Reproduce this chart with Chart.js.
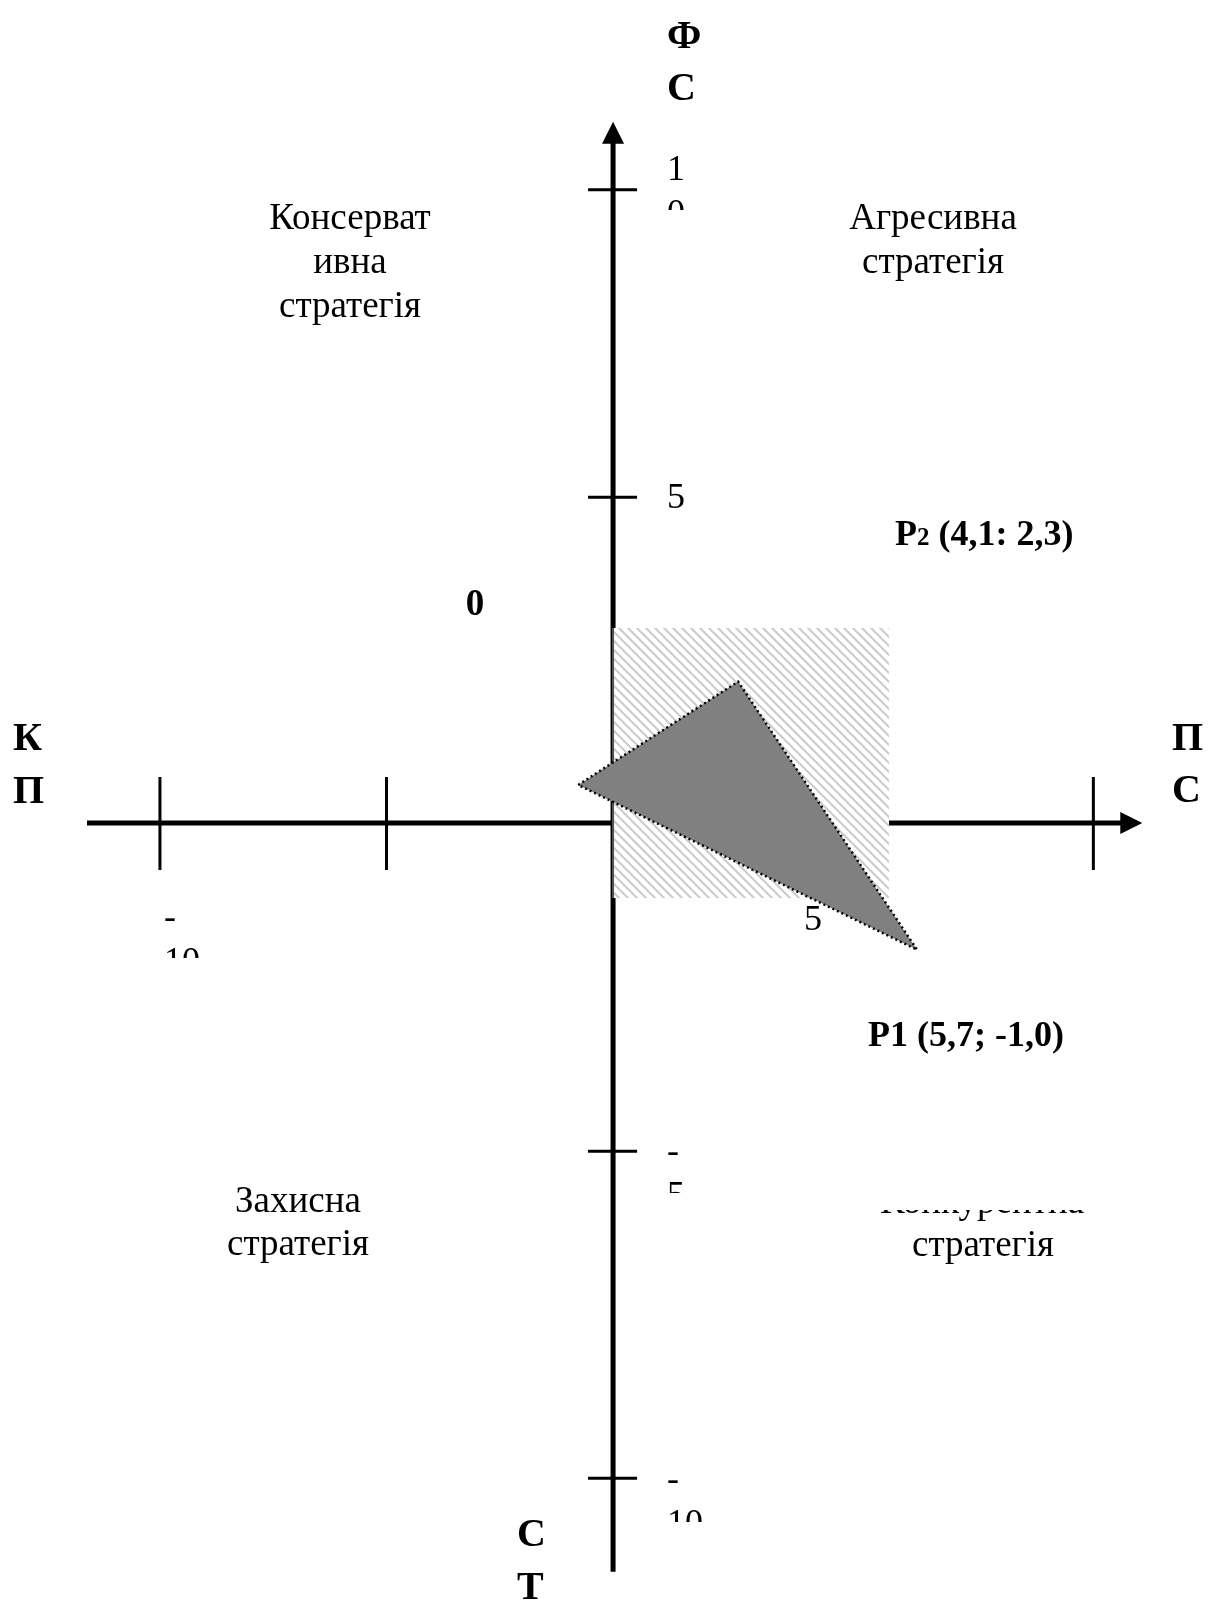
<!DOCTYPE html>
<html>
<head>
<meta charset="utf-8">
<script src="https://cdn.jsdelivr.net/npm/chart.js@4.4.1/dist/chart.umd.min.js"></script>
<style>
  html, body { margin: 0; padding: 0; background: #fff; }
  #wrap { width: 1208px; height: 1600px; }
</style>
</head>
<body>
<div id="wrap"><canvas id="space" width="1208" height="1600"></canvas></div>
<script>
// visible window of the plane (data units)
const xRange = [-13.53, 13.13];
const yRange = [-11.88, 12.58];

// how far the two axes run
const xAxisSpan = [-11.61, 11.68];
const yAxisSpan = [-11.45, 10.72];

// tick marks as they sit in the picture
const xTicks = [-10, -5, 10.6];
const yTicks = [9.68, 4.98, -5.02, -10.02];

// shaded zone
const zoneX = [0, 6.09];
const zoneY = [-1.15, 2.98];

// triangle vertices
const triX = [-0.77, 2.76, 6.71];
const triY = [0.58, 2.16, -1.94];

const serif = '"Liberation Serif", "Times New Roman", serif';
const tickFont = '36px ' + serif;
const zoneFont = '37px ' + serif;
const boldFont = 'bold 40px ' + serif;

const textBlocks = [
  { lines: ['Консерват', 'ивна', 'стратегія'], x: 350, y: 229, lh: 44, font: zoneFont, align: 'center' },
  { lines: ['Агресивна', 'стратегія'], x: 933, y: 229, lh: 44, font: zoneFont, align: 'center' },
  { lines: ['Захисна', 'стратегія'], x: 298, y: 1212, lh: 43, font: zoneFont, align: 'center' },
  { lines: ['Конкурентна'], x: 982, y: 1213, font: zoneFont, align: 'center', clipTop: 1210 },
  { lines: ['стратегія'], x: 983, y: 1256, font: zoneFont, align: 'center' },
  { lines: ['Ф', 'С'], x: 667, y: 48, lh: 52, font: boldFont },
  { lines: ['К', 'П'], x: 13, y: 750, lh: 53, font: boldFont },
  { lines: ['П', 'С'], x: 1172, y: 750, lh: 52, font: boldFont },
  { lines: ['С', 'Т'], x: 517, y: 1546, lh: 53, font: boldFont },
  { lines: ['0'], x: 475, y: 615, font: 'bold 37px ' + serif, align: 'center' },
  { lines: ['1', '0'], x: 667, y: 180, lh: 44, font: tickFont, clipBottom: 210 },
  { lines: ['5'], x: 667, y: 508, font: tickFont },
  { lines: ['-', '5'], x: 667, y: 1162, lh: 44, font: tickFont, clipBottom: 1193 },
  { lines: ['-', '10'], x: 667, y: 1490, lh: 44, font: tickFont, clipBottom: 1522 },
  { lines: ['-', '10'], x: 164, y: 928, lh: 44, font: tickFont, clipBottom: 958 },
];

// label that the triangle partly covers
const underLabel = { lines: ['5'], x: 804, y: 930, font: tickFont };

const pointNotes = [
  { parts: [['P', 36], ['2', 25], [' (4,1: 2,3)', 36]], x: 895, y: 545 },
  { parts: [['P1 (5,7; -1,0)', 36]], x: 868, y: 1046 },
];

function makeHatch() {
  const s = 9;
  const c = document.createElement('canvas');
  c.width = s; c.height = s;
  const g = c.getContext('2d');
  g.fillStyle = '#fff';
  g.fillRect(0, 0, s, s);
  g.strokeStyle = '#cbcbcb';
  g.lineWidth = 2;
  g.beginPath();
  g.moveTo(0, 0); g.lineTo(s, s);
  g.moveTo(-3, s - 3); g.lineTo(3, s + 3);
  g.moveTo(s - 3, -3); g.lineTo(s + 3, 3);
  g.stroke();
  return g.createPattern(c, 'repeat');
}

function drawBlock(ctx, b) {
  ctx.save();
  if (b.clipTop != null || b.clipBottom != null) {
    const top = b.clipTop != null ? b.clipTop : 0;
    const bottom = b.clipBottom != null ? b.clipBottom : 1600;
    ctx.beginPath();
    ctx.rect(0, top, 1208, bottom - top);
    ctx.clip();
  }
  ctx.font = b.font;
  ctx.fillStyle = '#000';
  ctx.textAlign = b.align || 'left';
  ctx.textBaseline = 'alphabetic';
  b.lines.forEach((t, i) => ctx.fillText(t, b.x, b.y + i * (b.lh || 0)));
  ctx.restore();
}

const axesPlugin = {
  id: 'axes',
  beforeDatasetsDraw(chart) {
    const { ctx, scales: { x, y } } = chart;
    const ox = x.getPixelForValue(0);
    const oy = y.getPixelForValue(0);
    const x0 = x.getPixelForValue(xAxisSpan[0]);
    const x1 = x.getPixelForValue(xAxisSpan[1]);
    const y0 = y.getPixelForValue(yAxisSpan[0]);
    const y1 = y.getPixelForValue(yAxisSpan[1]);
    const head = 22;
    ctx.save();
    ctx.strokeStyle = '#000';
    ctx.fillStyle = '#000';
    ctx.lineWidth = 5;
    ctx.beginPath();
    ctx.moveTo(x0, oy); ctx.lineTo(x1 - head + 2, oy);
    ctx.moveTo(ox, y0); ctx.lineTo(ox, y1 + head - 2);
    ctx.stroke();
    // arrow heads
    ctx.beginPath();
    ctx.moveTo(x1, oy);
    ctx.lineTo(x1 - head, oy - 11);
    ctx.lineTo(x1 - head, oy + 11);
    ctx.closePath();
    ctx.moveTo(ox, y1);
    ctx.lineTo(ox - 11, y1 + head);
    ctx.lineTo(ox + 11, y1 + head);
    ctx.closePath();
    ctx.fill();
    // ticks
    ctx.lineWidth = 3;
    ctx.beginPath();
    xTicks.forEach(v => {
      const px = x.getPixelForValue(v);
      ctx.moveTo(px, oy - 46); ctx.lineTo(px, oy + 47);
    });
    yTicks.forEach(v => {
      const py = y.getPixelForValue(v);
      ctx.moveTo(ox - 25, py); ctx.lineTo(ox + 24, py);
    });
    ctx.stroke();
    ctx.restore();
  },
  afterDatasetDraw(chart, args) {
    if (args.index === 1) drawBlock(chart.ctx, underLabel);
  },
  afterDatasetsDraw(chart) {
    const ctx = chart.ctx;
    textBlocks.forEach(b => drawBlock(ctx, b));
    pointNotes.forEach(n => {
      ctx.save();
      ctx.fillStyle = '#000';
      ctx.textAlign = 'left';
      ctx.textBaseline = 'alphabetic';
      let cx = n.x;
      n.parts.forEach(([t, size]) => {
        ctx.font = 'bold ' + size + 'px ' + serif;
        ctx.fillText(t, cx, n.y);
        cx += ctx.measureText(t).width;
      });
      ctx.restore();
    });
  }
};

const zonePts = [
  { x: zoneX[0], y: zoneY[0] }, { x: zoneX[0], y: zoneY[1] },
  { x: zoneX[1], y: zoneY[1] }, { x: zoneX[1], y: zoneY[0] },
  { x: zoneX[0], y: zoneY[0] },
];
const edgePts = [{ x: zoneX[0], y: zoneY[0] }, { x: zoneX[0], y: zoneY[1] }];
const triPts = triX.map((v, i) => ({ x: v, y: triY[i] }));
triPts.push({ x: triX[0], y: triY[0] });

new Chart(document.getElementById('space'), {
  type: 'scatter',
  data: {
    datasets: [
      {
        data: zonePts, showLine: true, fill: 'shape', tension: 0,
        backgroundColor: makeHatch(), borderWidth: 0, pointRadius: 0, order: 3,
      },
      {
        data: edgePts, showLine: true, fill: false, tension: 0,
        borderColor: '#555', borderWidth: 2, pointRadius: 0, order: 2,
      },
      {
        data: triPts, showLine: true, fill: 'shape', tension: 0,
        backgroundColor: '#808080', borderColor: '#000', borderWidth: 2.5,
        borderDash: [2, 3], pointRadius: 0, order: 1,
      },
    ],
  },
  options: {
    responsive: false,
    devicePixelRatio: 1,
    animation: false,
    layout: { padding: 0 },
    plugins: { legend: { display: false }, tooltip: { enabled: false } },
    scales: {
      x: { type: 'linear', min: xRange[0], max: xRange[1], display: false },
      y: { type: 'linear', min: yRange[0], max: yRange[1], display: false },
    },
  },
  plugins: [axesPlugin],
});
</script>
</body>
</html>
